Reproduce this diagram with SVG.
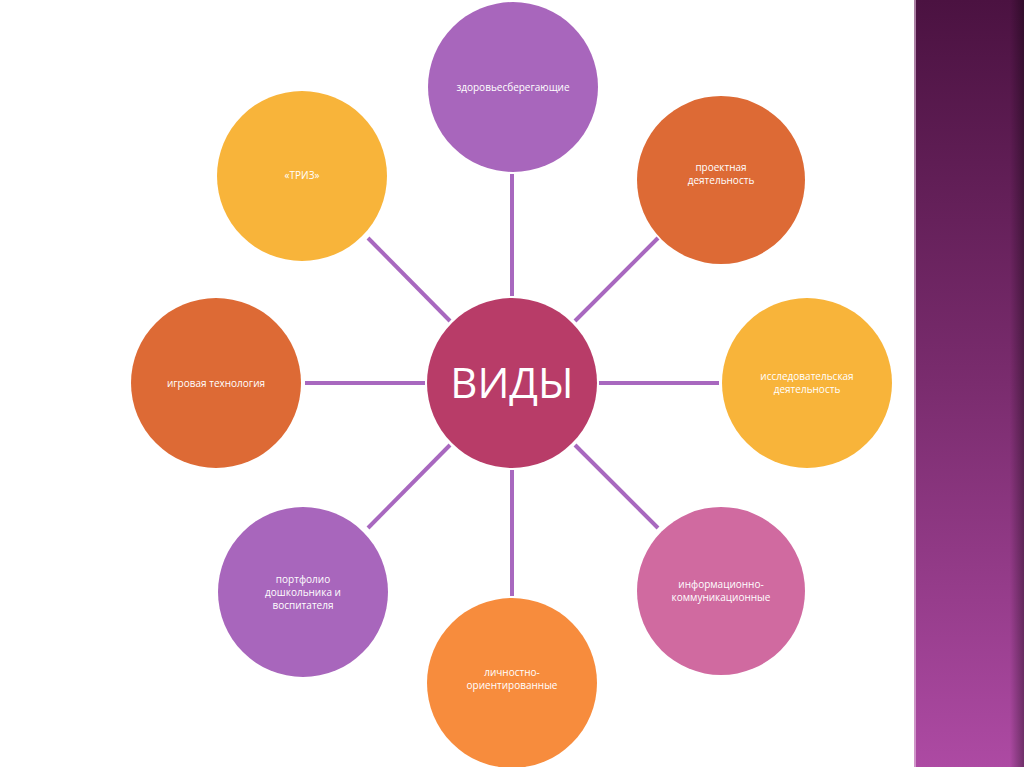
<svg xmlns="http://www.w3.org/2000/svg" width="1024" height="767" viewBox="0 0 1024 767">
<defs>
<linearGradient id="bar" x1="0" y1="0" x2="0" y2="1">
<stop offset="0" stop-color="#4b1241"/>
<stop offset="0.5" stop-color="#7a2c6e"/>
<stop offset="1" stop-color="#ad4aa3"/>
</linearGradient>
<linearGradient id="shade" x1="0" y1="0" x2="1" y2="0">
<stop offset="0" stop-color="#000" stop-opacity="0"/>
<stop offset="1" stop-color="#000" stop-opacity="0.35"/>
</linearGradient>
</defs>
<style>
.lbl{font-family:"Open Sans","DejaVu Sans",sans-serif;font-size:10px;fill:#fff;text-anchor:middle}
.big{font-family:"Open Sans","DejaVu Sans",sans-serif;font-size:42px;fill:#fff;text-anchor:middle}
.con line{stroke:#a868bf;stroke-width:4}
</style>
<rect width="1024" height="767" fill="#fff"/>
<rect x="914" y="0" width="110" height="767" fill="url(#bar)"/>
<rect x="914" y="0" width="2" height="767" fill="#e8c8e2" opacity="0.6"/>
<rect x="1010" y="0" width="14" height="767" fill="url(#shade)"/>
<g class="con">
<line x1="512" y1="174" x2="512" y2="296"/>
<line x1="512" y1="470" x2="512" y2="596"/>
<line x1="305" y1="383" x2="425" y2="383"/>
<line x1="599" y1="383" x2="719" y2="383"/>
<line x1="368" y1="238" x2="450" y2="321"/>
<line x1="575" y1="321" x2="658" y2="238"/>
<line x1="450" y1="445" x2="368" y2="528"/>
<line x1="575" y1="445" x2="658" y2="528"/>
</g>
<g id="center"><circle cx="512" cy="383" r="85" fill="#b83c68"/><text class="big" x="512" y="398">ВИДЫ</text></g>
<g id="n-top"><circle cx="513" cy="87" r="85" fill="#a866bc"/><text class="lbl" x="513" y="91">здоровьесберегающие</text></g>
<g id="n-tr"><circle cx="721" cy="180" r="84" fill="#dd6a35"/><text class="lbl" x="721" y="171">проектная</text><text class="lbl" x="721" y="184">деятельность</text></g>
<g id="n-r"><circle cx="807" cy="383" r="85" fill="#f8b43a"/><text class="lbl" x="807" y="380">исследовательская</text><text class="lbl" x="807" y="393">деятельность</text></g>
<g id="n-br"><circle cx="721" cy="591" r="84" fill="#d06aa0"/><text class="lbl" x="721" y="588">информационно-</text><text class="lbl" x="721" y="601">коммуникационные</text></g>
<g id="n-b"><circle cx="512" cy="683" r="85" fill="#f78c3d"/><text class="lbl" x="512" y="676">личностно-</text><text class="lbl" x="512" y="689">ориентированные</text></g>
<g id="n-bl"><circle cx="303" cy="592" r="85" fill="#a866bc"/><text class="lbl" x="303" y="583">портфолио</text><text class="lbl" x="303" y="596">дошкольника и</text><text class="lbl" x="303" y="609">воспитателя</text></g>
<g id="n-l"><circle cx="216" cy="383" r="85" fill="#dd6a35"/><text class="lbl" x="216" y="387">игровая технология</text></g>
<g id="n-tl"><circle cx="302" cy="176" r="85" fill="#f8b43a"/><text class="lbl" x="302" y="179">«ТРИЗ»</text></g>
</svg>
